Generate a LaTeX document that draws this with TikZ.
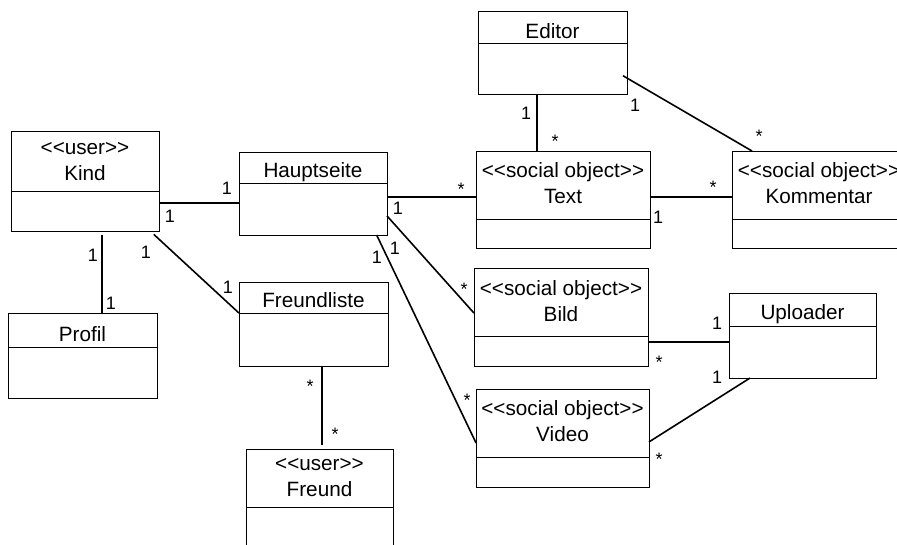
\documentclass[tikz,border=0pt]{standalone}
\usepackage{fontspec}
\setmainfont{Liberation Sans}
\usetikzlibrary{fit,calc}

% stereotype text; the kerns keep << and >> from turning into guillemets
\newcommand\stereo[1]{<\kern0pt<#1>\kern0pt>}

\tikzset{
  classbox/.style={draw, line width=1pt, inner sep=0pt, outer sep=0pt},
  divider/.style={line width=1pt},
  title/.style={font=\fontsize{20.7}{26}\selectfont, align=center,
    inner sep=0pt, anchor=base},
  assoc/.style={line width=1.6pt},
  one/.style={font=\fontsize{18}{18}\selectfont, inner sep=0pt,
    anchor=base, yshift=-6.4pt},
  many/.style={font=\fontsize{18}{18}\selectfont, inner sep=0pt,
    anchor=base, yshift=-10.3pt},
}

% class box: name, x1, y1, x2, y2, divider y, last baseline y, title
\newcommand\umlclass[8]{%
  \node[classbox, fit={(#2,-#3) (#4,-#5)}] (#1) {};
  \draw[divider] (#1.west |- 0,-#6) -- (#1.east |- 0,-#6);
  \node[title] (#1-name) at ({(#2+#4)/2},-#7) {#8};
}

\begin{document}
\begin{tikzpicture}[x=1pt, y=1pt]
  \path[use as bounding box, clip] (0,0) rectangle (897,-544);

  % classes
  \umlclass{kind}{11}{131}{159}{231}{191}{180}{\stereo{user}\\Kind}
  \umlclass{hs}{239}{152}{387}{235}{183}{177}{Hauptseite}
  \umlclass{profil}{8}{313}{157}{398}{347}{341}{Profil}
  \umlclass{fl}{239}{282}{388}{366}{313}{307.3}{Freundliste}
  \umlclass{freund}{246}{449}{393}{549}{507}{496.5}{\stereo{user}\\Freund}
  \umlclass{ed}{478}{11}{627}{94}{43}{38}{Editor}
  \umlclass{txt}{476}{151}{650}{248}{219}{203.5}{\stereo{social object}\\Text}
  \umlclass{komm}{732}{151}{906}{248}{219}{203.5}{\stereo{social object}\\Kommentar}
  \umlclass{bild}{474}{268}{648}{366}{336}{321}{\stereo{social object}\\Bild}
  \umlclass{video}{476}{389}{649}{487}{457}{441.7}{\stereo{social object}\\Video}
  \umlclass{up}{729}{293}{876}{378}{326}{319.5}{Uploader}

  % associations
  \draw[assoc] ($(kind.north east)!0.72!(kind.south east)$) coordinate (p1)
    -- (p1 -| hs.west);
  \draw[assoc, shorten <=4pt] ($(kind.south west)!0.615!(kind.south east)$)
    coordinate (p2) -- (p2 |- profil.north);
  \draw[assoc, shorten <=5pt] ($(kind.south west)!0.94!(kind.south east)$)
    -- ($(fl.north west)!0.37!(fl.south west)$);
  \draw[assoc, shorten >=4pt] ($(fl.south west)!0.557!(fl.south east)$)
    coordinate (p3) -- (p3 |- freund.north);
  \draw[assoc] ($(hs.north east)!0.54!(hs.south east)$) coordinate (p4)
    -- (p4 -| txt.west);
  \draw[assoc] ($(txt.north east)!0.474!(txt.south east)$) coordinate (p5)
    -- (p5 -| komm.west);
  \draw[assoc] ($(ed.south west)!0.396!(ed.south east)$) coordinate (p6)
    -- (p6 |- txt.north);
  \draw[assoc] ($(ed.north east)!0.78!(ed.south east)+(-4,0)$)
    -- ($(komm.north west)!0.115!(komm.north east)$);
  \draw[assoc] ($(hs.north east)!0.77!(hs.south east)$)
    -- ($(bild.north west)!0.46!(bild.south west)$);
  \draw[assoc] ($(hs.south west)!0.93!(hs.south east)$)
    -- ($(video.north west)!0.55!(video.south west)$);
  \draw[assoc] ($(bild.north east)!0.755!(bild.south east)$) coordinate (p7)
    -- (p7 -| up.west);
  \draw[assoc] ($(video.north east)!0.54!(video.south east)$)
    -- ($(up.south west)!0.143!(up.south east)$);

  % multiplicities
  \node[one]  (m1)  at (227,-188) {1};
  \node[one]  (m2)  at (170,-216) {1};
  \node[one]  (m3)  at (93,-255)  {1};
  \node[one]  (m4)  at (111,-303) {1};
  \node[one]  (m5)  at (146,-252) {1};
  \node[one]  (m6)  at (228,-287) {1};
  \node[many] (m7)  at (310,-382) {*};
  \node[many] (m8)  at (335,-430) {*};
  \node[many] (m9)  at (461,-185) {*};
  \node[one]  (m10) at (398,-208) {1};
  \node[many] (m11) at (713,-183) {*};
  \node[one]  (m12) at (658,-217) {1};
  \node[one]  (m13) at (526,-113) {1};
  \node[many] (m14) at (555,-137) {*};
  \node[one]  (m15) at (635,-105) {1};
  \node[many] (m16) at (759,-132) {*};
  \node[one]  (m17) at (395,-248) {1};
  \node[many] (m18) at (464,-285) {*};
  \node[one]  (m19) at (377,-257) {1};
  \node[many] (m20) at (467,-396) {*};
  \node[one]  (m21) at (717,-323) {1};
  \node[many] (m22) at (659,-358) {*};
  \node[one]  (m23) at (717,-377) {1};
  \node[many] (m24) at (659,-455) {*};
\end{tikzpicture}
\end{document}
